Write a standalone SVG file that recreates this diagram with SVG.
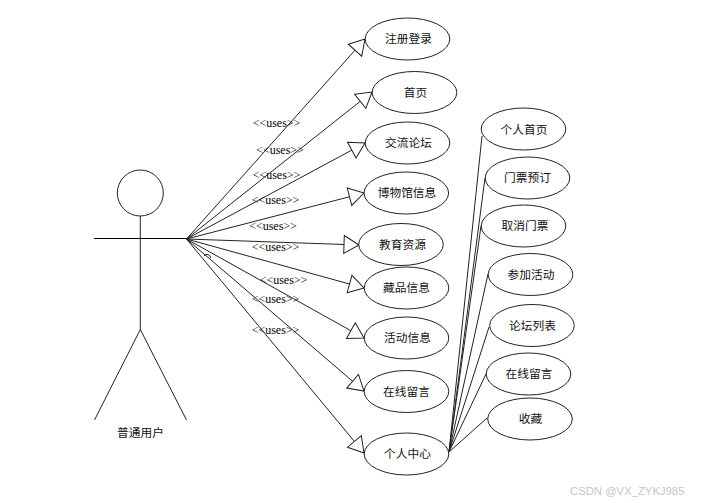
<svg xmlns="http://www.w3.org/2000/svg" width="702" height="503" viewBox="0 0 702 503">
<style>
.s{fill:none;stroke:#222;stroke-width:1}
.c{stroke:#222;stroke-width:1;fill:none}
.a{marker-end:url(#tri)}
.n{fill:#fff;stroke:#222;stroke-width:1}
.t{font:11.700px "Noto Sans CJK SC","Liberation Sans",sans-serif;fill:#111;text-anchor:middle}
.u{font:12px "Liberation Serif",serif;fill:#000;text-anchor:middle}
.w{font:11.300px "Liberation Sans",sans-serif;fill:#c6c6c6}
</style>
<defs>
<marker id="tri" markerUnits="userSpaceOnUse" markerWidth="19" markerHeight="22" refX="16.500" refY="10.500" orient="auto">
<polygon points="1.500,1.500 16.500,10.500 1.500,19.500" fill="#fff" stroke="#222" stroke-width="1"/>
</marker>
</defs>
<rect width="702" height="503" fill="#fff"/>
<g id="connectors">
<path class="c a" d="M186.500 239L365 39"/>
<path class="c a" d="M186.500 239L372 92"/>
<path class="c a" d="M186.500 239L365 143"/>
<path class="c a" d="M186.500 239L364 193"/>
<path class="c a" d="M186.500 239L359 245"/>
<path class="c a" d="M186.500 239L364 288"/>
<path class="c a" d="M186.500 239L364 338"/>
<path class="c a" d="M186.500 239L364 391"/>
<path class="c a" d="M186.500 239L364 453"/>
<path class="c" d="M204 256A3.500 3.500 0 0 1 210.500 258"/>
<path class="c" d="M449 452L482 136"/>
<path class="c" d="M449 452L485 178"/>
<path class="c" d="M449 452L481 226"/>
<path class="c" d="M449 452L488 274"/>
<path class="c" d="M449 452L489 327"/>
<path class="c" d="M449 452L486 374"/>
<path class="c" d="M449 452L487 418"/>
</g>
<g id="labels">
<text class="u" x="276.500" y="127">&lt;&lt;uses&gt;&gt;</text>
<text class="u" x="280" y="154">&lt;&lt;uses&gt;&gt;</text>
<text class="u" x="276.500" y="179">&lt;&lt;uses&gt;&gt;</text>
<text class="u" x="275.500" y="204">&lt;&lt;uses&gt;&gt;</text>
<text class="u" x="273" y="230">&lt;&lt;uses&gt;&gt;</text>
<text class="u" x="275.500" y="251">&lt;&lt;uses&gt;&gt;</text>
<text class="u" x="283.500" y="284">&lt;&lt;uses&gt;&gt;</text>
<text class="u" x="275.500" y="303">&lt;&lt;uses&gt;&gt;</text>
<text class="u" x="275.500" y="334">&lt;&lt;uses&gt;&gt;</text>
</g>
<g id="actor">
<circle class="s" cx="140.300" cy="193" r="23"/>
<path class="s" d="M140.300 216V329.500M140.300 329.500L94.500 420M140.300 329.500L186.500 420"/>
<path d="M94 238.500H187" stroke="#000" fill="none"/>
<text class="t" x="140.500" y="437">普通用户</text>
</g>
<g id="n1"><ellipse class="n" cx="407.500" cy="39" rx="42.300" ry="21"/><text class="t" x="408.500" y="43">注册登录</text></g>
<g id="n2"><ellipse class="n" cx="414.500" cy="92.500" rx="42.300" ry="21"/><text class="t" x="415.500" y="96.500">首页</text></g>
<g id="n3"><ellipse class="n" cx="407.500" cy="143" rx="42.300" ry="21"/><text class="t" x="408.500" y="147">交流论坛</text></g>
<g id="n4"><ellipse class="n" cx="406.300" cy="193" rx="42.300" ry="21"/><text class="t" x="407" y="197">博物馆信息</text></g>
<g id="n5"><ellipse class="n" cx="401" cy="244.500" rx="42.300" ry="21"/><text class="t" x="402.500" y="248.500">教育资源</text></g>
<g id="n6"><ellipse class="n" cx="406.500" cy="288" rx="42.300" ry="21"/><text class="t" x="406.500" y="292">藏品信息</text></g>
<g id="n7"><ellipse class="n" cx="406.500" cy="338" rx="42.300" ry="21"/><text class="t" x="407.500" y="342">活动信息</text></g>
<g id="n8"><ellipse class="n" cx="406.500" cy="391.500" rx="42.300" ry="21"/><text class="t" x="406.500" y="396">在线留言</text></g>
<g id="n9"><ellipse class="n" cx="406.500" cy="454" rx="42.300" ry="21"/><text class="t" x="407.500" y="458">个人中心</text></g>
<g id="m1"><ellipse class="n" cx="523.500" cy="129" rx="42.300" ry="21"/><text class="t" x="524" y="133.500">个人首页</text></g>
<g id="m2"><ellipse class="n" cx="527.500" cy="178" rx="42.300" ry="21"/><text class="t" x="527.500" y="182">门票预订</text></g>
<g id="m3"><ellipse class="n" cx="523.500" cy="226" rx="42.300" ry="21"/><text class="t" x="525" y="230">取消门票</text></g>
<g id="m4"><ellipse class="n" cx="530.500" cy="274.500" rx="42.300" ry="21"/><text class="t" x="531" y="279">参加活动</text></g>
<g id="m5"><ellipse class="n" cx="532" cy="325.500" rx="42.300" ry="21"/><text class="t" x="532.500" y="330">论坛列表</text></g>
<g id="m6"><ellipse class="n" cx="528.500" cy="374" rx="42.300" ry="21"/><text class="t" x="529" y="378">在线留言</text></g>
<g id="m7"><ellipse class="n" cx="530" cy="419" rx="42.300" ry="21"/><text class="t" x="530.500" y="423">收藏</text></g>
<text class="w" x="570" y="495">CSDN @VX_ZYKJ985</text>
</svg>
